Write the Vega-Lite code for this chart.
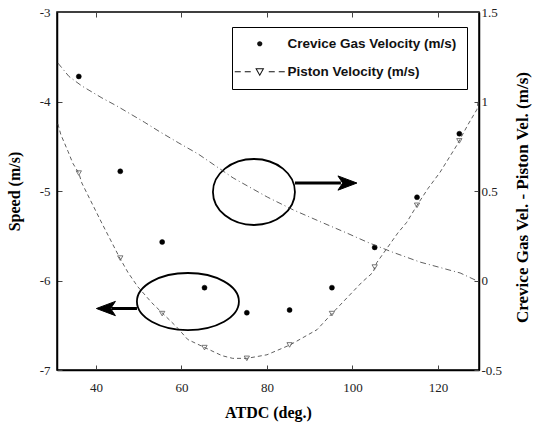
{
  "$schema": "https://vega.github.io/schema/vega-lite/v6.json",
  "width": 422,
  "height": 358,
  "autosize": "none",
  "padding": {"left": 57, "top": 12, "right": 56, "bottom": 59},
  "background": "white",
  "config": {
    "view": {"stroke": "black", "strokeWidth": 1.5},
    "axis": {
      "grid": false,
      "labelFont": "Liberation Serif",
      "labelFontSize": 13,
      "labelColor": "#222",
      "titleFont": "Liberation Serif",
      "titleFontSize": 16,
      "titleFontWeight": "bold",
      "titleColor": "#000",
      "tickColor": "#444",
      "tickSize": -5,
      "tickWidth": 1,
      "domainColor": "#000",
      "domainWidth": 1.5
    }
  },
  "datasets": {
    "crevice": [
      {"x": 36.0, "y": -3.72}, {"x": 45.7, "y": -4.78}, {"x": 55.5, "y": -5.57},
      {"x": 65.4, "y": -6.08}, {"x": 75.3, "y": -6.36}, {"x": 85.3, "y": -6.33},
      {"x": 95.2, "y": -6.08}, {"x": 105.2, "y": -5.63}, {"x": 115.1, "y": -5.07},
      {"x": 125.0, "y": -4.36}
    ],
    "piston_markers": [
      {"x": 36.0, "y": -4.80}, {"x": 45.7, "y": -5.75}, {"x": 55.5, "y": -6.37},
      {"x": 65.4, "y": -6.75}, {"x": 75.3, "y": -6.87}, {"x": 85.3, "y": -6.72},
      {"x": 95.2, "y": -6.37}, {"x": 105.2, "y": -5.85}, {"x": 115.1, "y": -5.16},
      {"x": 125.0, "y": -4.44}
    ],
    "legend_keys": [
      {"series": "Crevice Gas Velocity (m/s)"},
      {"series": "Piston Velocity (m/s)"}
    ],
    "piston_curve": [
      {"x": 31.1, "y": -4.25}, {"x": 31.8, "y": -4.37}, {"x": 33.5, "y": -4.56},
      {"x": 34.6, "y": -4.69}, {"x": 36.0, "y": -4.80}, {"x": 36.7, "y": -4.91},
      {"x": 41.4, "y": -5.36}, {"x": 45.6, "y": -5.75}, {"x": 47.5, "y": -5.91},
      {"x": 49.8, "y": -6.07}, {"x": 53.1, "y": -6.25}, {"x": 56.1, "y": -6.39},
      {"x": 58.9, "y": -6.52}, {"x": 61.5, "y": -6.66}, {"x": 65.5, "y": -6.75},
      {"x": 69.5, "y": -6.84}, {"x": 72.0, "y": -6.87}, {"x": 75.3, "y": -6.87},
      {"x": 80.0, "y": -6.83}, {"x": 85.4, "y": -6.72}, {"x": 91.7, "y": -6.55},
      {"x": 95.4, "y": -6.36}, {"x": 102.2, "y": -6.02}, {"x": 104.8, "y": -5.91},
      {"x": 105.7, "y": -5.80}, {"x": 110.6, "y": -5.47}, {"x": 112.7, "y": -5.35},
      {"x": 115.1, "y": -5.16}, {"x": 117.7, "y": -4.97}, {"x": 120.5, "y": -4.79},
      {"x": 124.4, "y": -4.49}, {"x": 127.0, "y": -4.26}, {"x": 129.1, "y": -4.09},
      {"x": 129.5, "y": -3.97}
    ],
    "difference_curve": [
      {"x": 31.1, "y": 1.215}, {"x": 33.7, "y": 1.14}, {"x": 36.7, "y": 1.087},
      {"x": 41.4, "y": 1.02}, {"x": 44.9, "y": 0.975}, {"x": 51.3, "y": 0.885},
      {"x": 55.0, "y": 0.83}, {"x": 59.4, "y": 0.768}, {"x": 63.9, "y": 0.707},
      {"x": 72.1, "y": 0.573}, {"x": 80.1, "y": 0.466}, {"x": 86.2, "y": 0.394},
      {"x": 93.2, "y": 0.321}, {"x": 98.7, "y": 0.265}, {"x": 103.4, "y": 0.215},
      {"x": 109.3, "y": 0.159}, {"x": 115.8, "y": 0.103}, {"x": 125.2, "y": 0.042},
      {"x": 128.7, "y": 0.003}
    ],
    "ellipse_right": [{"x": 76.96, "y": -5.011}],
    "ellipse_left": [{"x": 61.52, "y": -6.235}],
    "arrow_shafts": [
      {"x": 86.55, "x2": 97.3, "y": -4.911},
      {"x": 49.6, "x2": 43.6, "y": -6.313}
    ],
    "arrow_head_right": [{"x": 98.83, "y": -4.911}],
    "arrow_head_left": [{"x": 42.34, "y": -6.313}]
  },
  "layer": [
    {
      "encoding": {
        "x": {
          "field": "x", "type": "quantitative",
          "scale": {"domain": [30.9, 129.6], "nice": false, "zero": false},
          "axis": {
            "title": "ATDC (deg.)", "values": [40, 60, 80, 100, 120],
            "labelPadding": 16, "titleX": 211, "titleY": 42,
            "titleAlign": "center", "titleBaseline": "middle"
          }
        },
        "y": {
          "field": "y", "type": "quantitative",
          "scale": {"domain": [-7, -3], "nice": false, "zero": false},
          "axis": {
            "title": "Speed (m/s)", "values": [-7, -6, -5, -4, -3],
            "labelExpr": "'' + datum.value", "labelPadding": 12,
            "titleX": -43, "titleY": 179, "titleAngle": 270,
            "titleAlign": "center", "titleBaseline": "middle"
          }
        }
      },
      "layer": [
        {
          "data": {"name": "piston_curve"},
          "mark": {"type": "line", "stroke": "#444", "strokeWidth": 1, "strokeDash": [4, 3], "opacity": 0.85}
        },
        {
          "data": {"name": "piston_markers"},
          "mark": {"type": "point", "shape": "triangle-down", "filled": false, "size": 28, "stroke": "#555", "strokeWidth": 0.8, "opacity": 1}
        },
        {
          "data": {"name": "crevice"},
          "mark": {"type": "point", "shape": "circle", "filled": true, "size": 25, "fill": "black", "stroke": "black", "strokeWidth": 0.5, "opacity": 1}
        },
        {
          "data": {"name": "legend_keys"},
          "mark": {"type": "point", "filled": true, "opacity": 1, "color": "#111", "fill": "#111", "strokeWidth": 0},
          "encoding": {
            "shape": {
              "field": "series", "type": "nominal",
              "scale": {
                "domain": ["Crevice Gas Velocity (m/s)", "Piston Velocity (m/s)"],
                "range": [
                  "M0.52,0C0.52,0.29,0.29,0.52,0,0.52C-0.29,0.52,-0.52,0.29,-0.52,0C-0.52,-0.29,-0.29,-0.52,0,-0.52C0.29,-0.52,0.52,-0.29,0.52,0Z",
                  "M-5,-0.1H-3.8V0.1H-5ZM-3,-0.1H-1.8V0.1H-3ZM1.8,-0.1H3V0.1H1.8ZM3.8,-0.1H5V0.1H3.8ZM-0.9,-0.7L0.9,-0.7L0,0.9ZM-0.55,-0.5L0,0.5L0.55,-0.5Z"
                ]
              },
              "legend": {
                "orient": "none", "legendX": 175, "legendY": 15, "title": null,
                "strokeColor": "black", "padding": 10, "rowPadding": 13,
                "labelFont": "Liberation Sans", "labelFontSize": 13.5, "labelFontWeight": "bold", "labelColor": "#111",
                "labelLimit": 400, "labelOffset": 21, "symbolOffset": 11,
                "symbolSize": 100, "symbolFillColor": "#111", "symbolStrokeColor": "#111",
                "symbolStrokeWidth": 0, "symbolOpacity": 1
              }
            }
          }
        },
        {
          "data": {"name": "ellipse_right"},
          "mark": {"type": "point", "filled": false, "stroke": "black", "strokeWidth": 1.8, "opacity": 1, "size": 6724,
            "shape": "M1,0C1,0.4445,0.5523,0.805,0,0.805C-0.5523,0.805,-1,0.4445,-1,0C-1,-0.4445,-0.5523,-0.805,0,-0.805C0.5523,-0.805,1,-0.4445,1,0Z"}
        },
        {
          "data": {"name": "ellipse_left"},
          "mark": {"type": "point", "filled": false, "stroke": "black", "strokeWidth": 1.8, "opacity": 1, "size": 10404,
            "shape": "M1,0C1,0.3087,0.5523,0.559,0,0.559C-0.5523,0.559,-1,0.3087,-1,0C-1,-0.3087,-0.5523,-0.559,0,-0.559C0.5523,-0.559,1,-0.3087,1,0Z"}
        },
        {
          "data": {"name": "arrow_shafts"},
          "mark": {"type": "rule", "stroke": "black", "strokeWidth": 3},
          "encoding": {"x2": {"field": "x2"}}
        },
        {
          "data": {"name": "arrow_head_right"},
          "mark": {"type": "point", "filled": true, "fill": "black", "stroke": "black", "strokeWidth": 1, "opacity": 1, "size": 361,
            "shape": "M1,0L-1,-0.75L-0.5,0L-1,0.75Z"}
        },
        {
          "data": {"name": "arrow_head_left"},
          "mark": {"type": "point", "filled": true, "fill": "black", "stroke": "black", "strokeWidth": 1, "opacity": 1, "size": 361,
            "shape": "M-1,0L1,-0.75L0.5,0L1,0.75Z"}
        }
      ]
    },
    {
      "data": {"name": "difference_curve"},
      "mark": {"type": "line", "stroke": "#444", "strokeWidth": 1, "strokeDash": [6, 3, 1, 3], "opacity": 0.85},
      "encoding": {
        "x": {
          "field": "x", "type": "quantitative",
          "scale": {"domain": [30.9, 129.6], "nice": false, "zero": false},
          "axis": {"orient": "top", "labels": false, "title": null, "domain": false, "values": [40, 60, 80, 100, 120]}
        },
        "y": {
          "field": "y", "type": "quantitative",
          "scale": {"domain": [-0.5, 1.5], "nice": false, "zero": false},
          "axis": {
            "orient": "right", "title": "Crevice Gas Vel. - Piston Vel. (m/s)",
            "values": [-0.5, 0, 0.5, 1, 1.5], "labelExpr": "'' + datum.value",
            "labelPadding": 7, "titleFontSize": 17,
            "titleX": 43, "titleY": 185, "titleAngle": 270,
            "titleAlign": "center", "titleBaseline": "middle"
          }
        }
      }
    }
  ],
  "resolve": {"scale": {"y": "independent"}, "axis": {"x": "independent"}}
}
